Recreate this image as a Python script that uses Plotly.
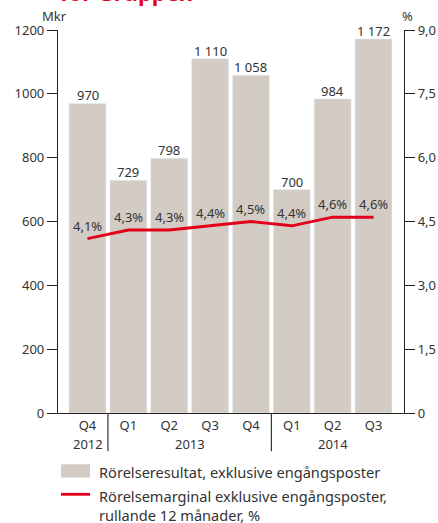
import plotly.graph_objects as go

quarters = ["Q4", "Q1", "Q2", "Q3", "Q4", "Q1", "Q2", "Q3"]
years = ["2012", "2013", "2014"]
year_centers = [0, 2.5, 6]
year_separators = [0.5, 4.5]
resultat = [970, 729, 798, 1110, 1058, 700, 984, 1172]
marginal = [4.1, 4.3, 4.3, 4.4, 4.5, 4.4, 4.6, 4.6]
left_ticks = [0, 200, 400, 600, 800, 1000, 1200]
right_ticks = [0, 1.5, 3.0, 4.5, 6.0, 7.5, 9.0]
right_ticktext = ["0", "1,5", "3,0", "4,5", "6,0", "7,5", "9,0"]
legend_bar = "Rörelseresultat, exklusive engångsposter"
legend_line = ["Rörelsemarginal exklusive engångsposter,", "rullande 12 månader, %"]
title_text = "för Gruppen"

FONT = "Noto Sans"
TXT = "#333333"
BAR = "#d3ccc5"
RED = "#e2001a"

x = list(range(len(quarters)))

def fmt_int(v):
    return f"{v:,}".replace(",", " ")

fig = go.Figure()
fig.add_trace(go.Bar(
    x=x, y=resultat, width=0.905, marker_color=BAR,
    name=legend_bar, hoverinfo="skip",
))
fig.add_trace(go.Scatter(
    x=x, y=marginal, yaxis="y2", mode="lines",
    line=dict(color=RED, width=2.8),
    name=" ".join(legend_line), hoverinfo="skip", cliponaxis=False,
))

shapes = []
for s in year_separators:
    shapes.append(dict(type="line", xref="x", yref="paper", x0=s, x1=s, y0=0, y1=-0.1,
                       line=dict(color="#333333", width=1.2)))
# legend swatches
shapes.append(dict(type="rect", xref="paper", yref="paper", x0=0.0087, x1=0.0925,
                   y0=-0.1684, y1=-0.1339, fillcolor=BAR, line=dict(width=0)))
shapes.append(dict(type="line", xref="paper", yref="paper", x0=0.0087, x1=0.0925,
                   y0=-0.2123, y1=-0.2123, line=dict(color=RED, width=2.8)))

annotations = []
# bar value labels
for xi, v in zip(x, resultat):
    annotations.append(dict(x=xi, y=v, xref="x", yref="y", text=fmt_int(v), showarrow=False,
                            yanchor="middle", yshift=8, borderpad=0,
                            font=dict(family=FONT, size=13, color=TXT)))
# margin labels
for xi, v in zip(x, marginal):
    annotations.append(dict(x=xi, y=v, xref="x", yref="y2",
                            text=f"{v:.1f}".replace(".", ",") + "%", showarrow=False,
                            yanchor="middle", yshift=13, borderpad=0,
                            font=dict(family=FONT, size=13, color=TXT)))
for yr, c in zip(years, year_centers):
    annotations.append(dict(x=c, y=-0.081, xref="x", yref="paper", text=yr, showarrow=False,
                            yanchor="middle", font=dict(family=FONT, size=13, color=TXT)))
annotations.append(dict(x=-0.01, y=1.0366, xref="paper", yref="paper", text="Mkr", showarrow=False,
                        xanchor="center", yanchor="middle", font=dict(family=FONT, size=13, color=TXT)))
annotations.append(dict(x=1.01, y=1.0366, xref="paper", yref="paper", text="%", showarrow=False,
                        xanchor="center", yanchor="middle", font=dict(family=FONT, size=13, color=TXT)))
annotations.append(dict(x=0, y=1.0557, xref="paper", yref="paper", text=f"<b>{title_text}</b>",
                        showarrow=False, xanchor="left", yanchor="bottom",
                        font=dict(family=FONT, size=22, color=RED)))
# legend texts
for txt, yy in [(legend_bar, -0.1533), (legend_line[0], -0.2172), (legend_line[1], -0.2660)]:
    annotations.append(dict(x=0.1165, y=yy, xref="paper", yref="paper", text=txt, showarrow=False,
                            xanchor="left", yanchor="middle", borderpad=0,
                            font=dict(family=FONT, size=14.6, color=TXT)))

fig.update_layout(
    width=438, height=523,
    margin=dict(l=58, r=34, t=30, b=110, autoexpand=False),
    paper_bgcolor="white", plot_bgcolor="white",
    font=dict(family=FONT, size=13, color=TXT),
    showlegend=False,
    xaxis=dict(range=[-0.722, 7.746], tickvals=x, ticktext=quarters, showgrid=False,
               showline=True, linecolor="#222222", linewidth=1.2, ticks="", zeroline=False,
               tickfont=dict(family=FONT, size=13, color=TXT)),
    yaxis=dict(range=[0, 1200], tickvals=left_ticks, ticktext=[str(v) for v in left_ticks],
               showgrid=False, showline=True, linecolor="#222222", linewidth=1.2,
               ticks="outside", ticklen=10, tickcolor="#222222", tickwidth=1.2, zeroline=False,
               tickfont=dict(family=FONT, size=13, color=TXT)),
    yaxis2=dict(range=[0, 9], overlaying="y", side="right", tickvals=right_ticks,
                ticktext=right_ticktext, showgrid=False, showline=True, linecolor="#222222",
                linewidth=1.2, ticks="outside", ticklen=10, tickcolor="#222222", tickwidth=1.2,
                zeroline=False, tickfont=dict(family=FONT, size=13, color=TXT)),
    shapes=shapes, annotations=annotations,
)

fig.write_html("out.html", config={"displayModeBar": False},
               post_script="document.body.style.margin='0px';document.body.style.overflow='hidden';")
